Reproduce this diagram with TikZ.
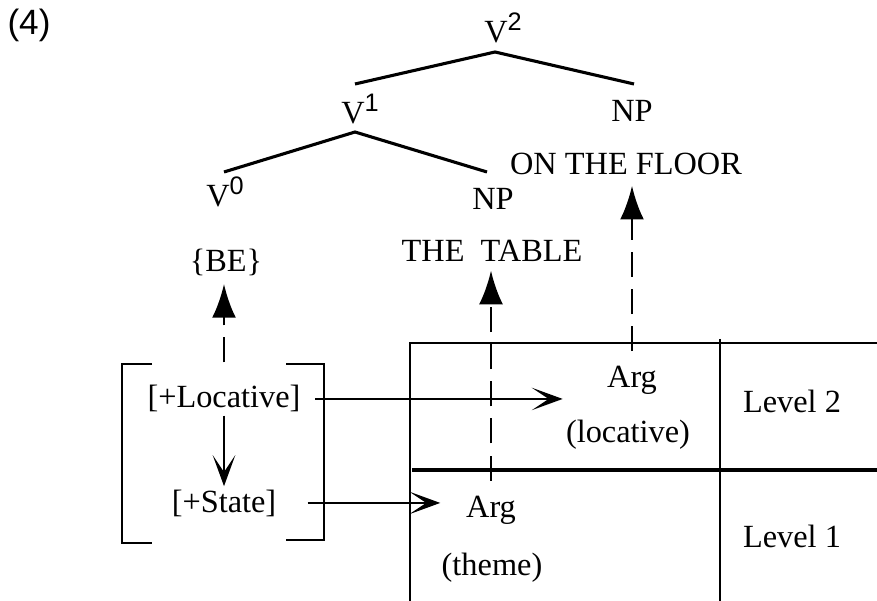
\documentclass[tikz,border=0pt]{standalone}
\usepackage{fontspec}
\setmainfont{Liberation Serif}
\setsansfont{Liberation Sans}
\usetikzlibrary{arrows.meta, calc, positioning}
\newcommand{\barV}[1]{V\raisebox{0.85ex}{\sffamily\fontsize{9}{9}\selectfont #1}}

\begin{document}
\begin{tikzpicture}[x=0.0125cm, y=-0.0125cm, font=\fontsize{11.5}{13}\selectfont,
  lbl/.style={inner sep=1pt, anchor=base},
  branch/.style={line width=1.1pt},
  dasharrow/.style={line width=1pt, dash pattern=on 8.9pt off 4.3pt, -{Latex[length=12pt,width=8.5pt]}},
  barb/.style={line width=0.85pt, -{Stealth[length=11pt,width=8pt,inset=6pt]}}]
\useasboundingbox (0,0) rectangle (877,601);
\node[lbl, font=\sffamily\fontsize{12.5}{14}\selectfont] (num) at (29,35) {(4)};
\node[lbl] (V2) at (503,43) {\barV{2}};
\node[lbl] (V1) at (360,124) {\barV{1}};
\node[lbl] (V0) at (225,207) {\barV{0}};
\node[lbl] (NP2) at (632,122) {NP};
\node[lbl] (NP1) at (493,210) {NP};
\node[lbl] (floor) at (626,175) {ON THE FLOOR};
\node[lbl] (table) at (492,262) {THE\ \ TABLE};
\node[lbl] (be) at (226,272) {\{BE\}};
\coordinate (V2root) at (495,52);
\coordinate (V1top) at (355,84);
\coordinate (NP2top) at (634,84);
\coordinate (V1root) at (355,132);
\coordinate (V0top) at (224,172);
\coordinate (NP1top) at (487,172);
\draw[branch] (V1top) -- (V2root) -- (NP2top);
\draw[branch] (V0top) -- (V1root) -- (NP1top);
\draw[line width=0.85pt] (410,601) -- (410,343) -- (877,343);
\draw[line width=1.3pt] (412,470) -- (877,470);
\draw[line width=0.45pt] (720,339) -- (720,601);
\node[lbl] (argloc) at (632,388) {Arg};
\node[lbl] (locrole) at (628,442) {(locative)};
\node[lbl] (lvltwo) at (792,413) {Level 2};
\node[lbl] (argth) at (491,518) {Arg};
\node[lbl] (throle) at (492,575) {(theme)};
\node[lbl] (lvlone) at (792,547) {Level 1};
\draw[line width=0.85pt] (152,364) -- (122,364) -- (122,543) -- (152,543);
\draw[line width=0.85pt] (286,364) -- (324,364) -- (324,540) -- (286,540);
\node[lbl] (loc) at (224,408) {[+Locative]};
\node[lbl] (state) at (224,512) {[+State]};
\draw[barb] (loc) -- (state);
\draw[barb, shorten <=4pt] (loc.east) -- (loc.east -| locrole.west);
\draw[barb, shorten <=10pt, shorten >=8pt] (state.east) -- (state.east -| argth.west);
\draw[dasharrow, shorten <=7pt, shorten >=1.5pt] (loc.north) -- (loc.north |- be.south);
\draw[dasharrow, shorten <=4.5pt, shorten >=1.8pt] (argth.north) -- (argth.north |- table.south);
\draw[dasharrow, shorten <=4.3pt, shorten >=2.5pt] (argloc.north) -- (argloc.north |- floor.south);
\end{tikzpicture}
\end{document}
